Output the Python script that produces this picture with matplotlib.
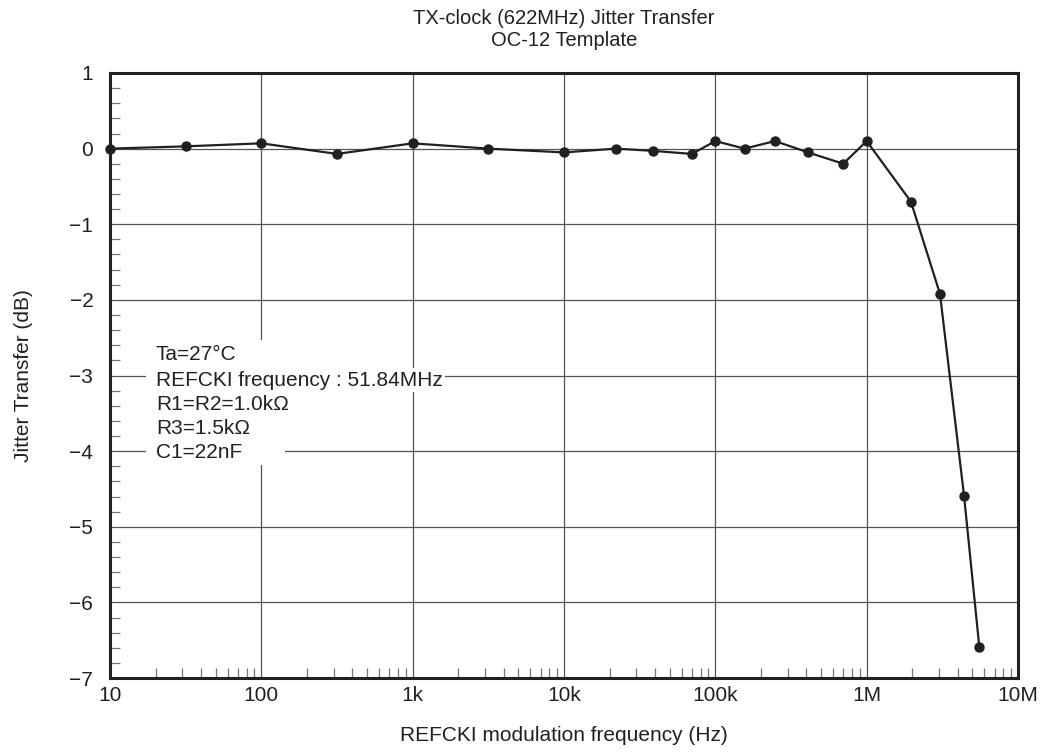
import matplotlib
matplotlib.use("Agg")
import matplotlib.pyplot as plt
from matplotlib.patches import Rectangle
from matplotlib.ticker import FixedLocator, FixedFormatter, LogLocator, NullFormatter, MultipleLocator

plt.rcParams['font.family'] = ['Liberation Sans', 'DejaVu Sans']

freq_hz = [10, 31.6, 100, 316, 1000, 3160, 10000, 22000, 39000, 70000,
           100000, 156000, 248000, 410000, 700000, 1000000,
           1960000, 3050000, 4400000, 5550000]
jitter_db = [0.0, 0.03, 0.07, -0.07, 0.07, 0.0, -0.05, 0.0, -0.03, -0.07,
             0.10, 0.0, 0.10, -0.05, -0.20, 0.10,
             -0.70, -1.92, -4.59, -6.59]

x_ticks = [10, 100, 1e3, 1e4, 1e5, 1e6, 1e7]
x_tick_labels = ['10', '100', '1k', '10k', '100k', '1M', '10M']
y_ticks = [1, 0, -1, -2, -3, -4, -5, -6, -7]
y_tick_labels = ['1', '0', '\u22121', '\u22122', '\u22123', '\u22124', '\u22125', '\u22126', '\u22127']

conditions = ['Ta=27°C', 'REFCKI frequency : 51.84MHz', 'R1=R2=1.0k\u03a9', 'R3=1.5k\u03a9', 'C1=22nF']

fig = plt.figure(figsize=(10.47, 7.53), dpi=100)
ax = fig.add_axes([110/1047, 1 - 678/753, 908/1047, 605/753])

ax.set_xscale('log')
ax.set_xlim(10, 1e7)
ax.set_ylim(-7, 1)

ax.grid(True, which='major', color='#555555', linewidth=0.9, zorder=0)
ax.plot(freq_hz, jitter_db, color='#231f20', linewidth=1.6, marker='o',
        markersize=6.5, zorder=3, clip_on=False)

ax.xaxis.set_major_locator(FixedLocator(x_ticks))
ax.xaxis.set_major_formatter(FixedFormatter(x_tick_labels))
ax.xaxis.set_minor_locator(LogLocator(base=10, subs=range(2, 10), numticks=20))
ax.xaxis.set_minor_formatter(NullFormatter())
ax.yaxis.set_major_locator(FixedLocator(y_ticks))
ax.yaxis.set_major_formatter(FixedFormatter(y_tick_labels))
ax.yaxis.set_minor_locator(MultipleLocator(0.2))

ax.tick_params(which='major', length=0, labelsize=15, colors='#231f20')
ax.tick_params(axis='x', which='major', pad=6)
ax.tick_params(axis='y', which='major', pad=12)
ax.tick_params(which='minor', direction='in', length=7, width=0.9, color='#777777')
ax.tick_params(axis='y', which='minor', left=True, right=False)
ax.tick_params(axis='x', which='minor', bottom=True, top=False)

for s in ax.spines.values():
    s.set_linewidth(2.2)
    s.set_color('#231f20')

ax.set_xlabel('REFCKI modulation frequency (Hz)', fontsize=15, labelpad=15, color='#231f20')
ax.set_ylabel('Jitter Transfer (dB)', fontsize=15, labelpad=26, color='#231f20')
fig.text(564/1047, 1 - 18/753, 'TX-clock (622MHz) Jitter Transfer', ha='center', va='center', fontsize=14.5, color='#231f20')
fig.text(564/1047, 1 - 41/753, 'OC-12 Template', ha='center', va='center', fontsize=14.5, color='#231f20')

# white backing panel behind the conditions block
ax.add_patch(Rectangle((146/1047, 1 - 465/753), (285 - 146)/1047, (465 - 340)/753,
                       transform=fig.transFigure, facecolor='white', edgecolor='none', zorder=2))

ys = [355, 380, 404, 428, 452]
for t, yp in zip(conditions, ys):
    fig.text(156/1047, 1 - yp/753, t, fontsize=15, color='#231f20',
             ha='left', va='center', zorder=5,
             bbox=dict(facecolor='white', edgecolor='none', pad=2))

fig.savefig('out.png', dpi=100)
